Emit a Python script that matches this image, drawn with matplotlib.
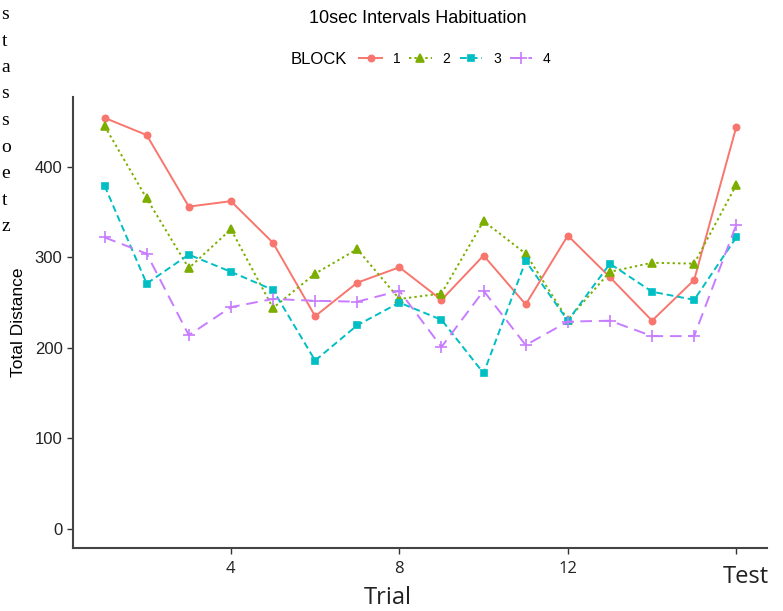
import matplotlib.pyplot as plt
from matplotlib.transforms import ScaledTranslation

# data
trials = list(range(1, 17))
block1 = [454, 435, 356, 362, 316, 235, 272, 289, 253, 302, 248, 324, 278, 230, 275, 444]
block2 = [445, 365, 288, 331, 244, 282, 309, 254, 260, 340, 304, 231, 284, 294, 293, 380]
block3 = [379, 271, 303, 284, 264, 186, 225, 250, 231, 172, 296, 230, 293, 262, 253, 322]
block4 = [322, 304, 214, 245, 254, 252, 251, 263, 201, 263, 203, 229, 230, 213, 213, 336]
blocks = ["1", "2", "3", "4"]
x_ticks = [4, 8, 12, 16]
x_tick_labels = ["4", "8", "12", "Test"]
y_ticks = [0, 100, 200, 300, 400]

colors = ["#F8766D", "#7CAE00", "#00BFC4", "#C77CFF"]
styles = ["-", (0, (1.2, 1.6)), (0, (3.5, 2)), (0, (6, 3.5))]
markers = ["o", "^", "s", "+"]
msizes = [4.5, 5.5, 4.5, 9]

plt.rcParams['font.family'] = ['Liberation Sans', 'DejaVu Sans']

fig = plt.figure(figsize=(7.83, 6.11), dpi=100)
ax = fig.add_axes([0.0932, 0.1031, 0.8864, 0.7381])

handles = []
for vals, c, ls, m, ms in zip([block1, block2, block3, block4], colors, styles, markers, msizes):
    h, = ax.plot(trials, vals, color=c, linestyle=ls, marker=m, markersize=ms,
                 linewidth=1.4, markeredgewidth=1.2)
    handles.append(h)

ax.set_xlim(0.25, 16.73)
ax.set_ylim(-21, 477)
ax.set_xticks(x_ticks)
ax.set_xticklabels(x_tick_labels)
ax.set_yticks(y_ticks)
ax.tick_params(axis='both', color='#333333', length=4, width=1, labelcolor='#222222')
ax.tick_params(axis='y', labelsize=12)
ax.tick_params(axis='x', labelsize=12, pad=5)
for lab in ax.get_xticklabels():
    lab.set_family(['Open Sans', 'DejaVu Sans'])
    if lab.get_text() == "Test":
        lab.set_fontsize(17)
        lab.set_transform(lab.get_transform() + ScaledTranslation(0.1, -0.04, fig.dpi_scale_trans))
for sp in ["top", "right"]:
    ax.spines[sp].set_visible(False)
for sp in ["left", "bottom"]:
    ax.spines[sp].set_color('#444444')
    ax.spines[sp].set_linewidth(1.5)

ax.set_ylabel("Total Distance", fontsize=12.5, labelpad=6)
fig.text(388 / 783, 1 - 598 / 611, "Trial", fontsize=17, family=['Open Sans', 'DejaVu Sans'],
         ha='center', va='center', color='#222222')

fig.text(0.534, 0.97, "10sec Intervals Habituation", fontsize=13, ha='center', va='center')
fig.text(0.371, 0.903, "BLOCK", fontsize=12, ha='left', va='center')
fig.legend(handles, blocks, loc='center left', bbox_to_anchor=(0.459, 0.903), ncol=4,
           frameon=False, fontsize=10, handlelength=1.6, columnspacing=0.65,
           handletextpad=0.8, borderaxespad=0, borderpad=0)

# stray scanned letters at the left edge
stray = ["s", "t", "a", "s", "s", "o", "e", "t", "z"]
for i, ch in enumerate(stray):
    fig.text(0.002, 1 - (6 + i * 26.5) / 611, ch, fontsize=14, family=['Liberation Serif'],
             ha='left', va='top')

fig.savefig("out.png", dpi=100)
